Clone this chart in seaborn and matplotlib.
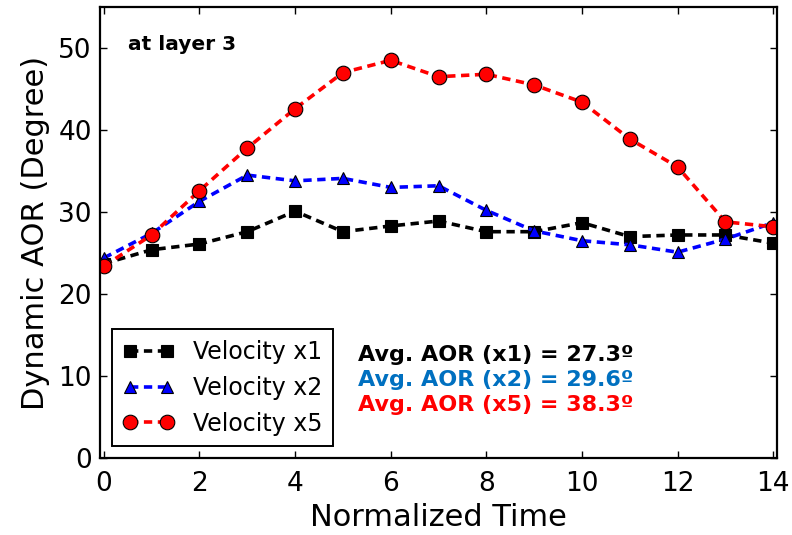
import numpy as np
import pandas as pd
import matplotlib
matplotlib.use("Agg")
import matplotlib.pyplot as plt
import seaborn as sns

# Dynamic angle of repose at layer 3 for three inlet velocities
time = list(range(15))
aor_x1 = [23.7, 25.4, 26.1, 27.6, 30.1, 27.6, 28.3, 28.9, 27.6, 27.6, 28.7, 27.0, 27.2, 27.2, 26.2]
aor_x2 = [24.4, 27.4, 31.3, 34.5, 33.8, 34.1, 33.0, 33.2, 30.2, 27.7, 26.5, 26.0, 25.1, 26.7, 28.7]
aor_x5 = [23.4, 27.2, 32.6, 37.8, 42.6, 47.0, 48.5, 46.5, 46.8, 45.5, 43.4, 38.9, 35.5, 28.8, 28.2]

series_labels = ["Velocity x1", "Velocity x2", "Velocity x5"]
avg_labels = ["Avg. AOR (x1) = 27.3º", "Avg. AOR (x2) = 29.6º", "Avg. AOR (x5) = 38.3º"]
x_ticks = [0, 2, 4, 6, 8, 10, 12, 14]
y_ticks = [0, 10, 20, 30, 40, 50]

sns.set_style("ticks")
plt.rcParams.update({
    "font.family": ["DejaVu Sans"],
    "text.color": "black",
    "axes.labelcolor": "black",
    "xtick.color": "black",
    "ytick.color": "black",
    "xtick.direction": "in",
    "ytick.direction": "in",
    "xtick.top": True,
    "ytick.right": True,
    "xtick.major.size": 5,
    "ytick.major.size": 5,
    "xtick.major.width": 1.0,
    "ytick.major.width": 1.0,
    "axes.linewidth": 1.6,
    "axes.edgecolor": "black",
    "lines.scale_dashes": False,
})

fig = plt.figure(figsize=(7.92, 5.35), dpi=100)
ax = fig.add_axes([0.1263, 0.1439, 0.8548, 0.8430])

styles = [
    (aor_x1, "black", "s", 8.5),
    (aor_x2, "blue", "^", 9.0),
    (aor_x5, "red", "o", 10.5),
]
for (vals, col, mk, ms), lab in zip(styles, series_labels):
    sns.lineplot(x=time, y=vals, ax=ax, color=col, marker=mk, markersize=ms,
                 markeredgecolor="black", markeredgewidth=0.8,
                 linewidth=2.6, dashes=False, label=lab)
for line in ax.get_lines():
    line.set_dashes([6, 4])

ax.set_xlim(-0.08, 14.08)
ax.set_ylim(0, 55)
ax.set_xticks(x_ticks)
ax.set_yticks(y_ticks)
ax.tick_params(axis="x", labelsize=19, pad=9)
ax.tick_params(axis="y", labelsize=19, pad=6)
ax.set_xlabel("Normalized Time", fontsize=22, labelpad=5)
ax.set_ylabel("Dynamic AOR (Degree)", fontsize=22, labelpad=6)

leg = ax.legend(loc="lower left", numpoints=2, fontsize=17, frameon=True,
                fancybox=False, edgecolor="black", framealpha=1,
                handlelength=2.2, handletextpad=0.8, borderpad=0.45,
                labelspacing=0.5)
leg.get_frame().set_linewidth(1.4)
for h in leg.legend_handles:
    h.set_dashes([6, 4])

ax.text(0.041, 0.916, "at layer 3", transform=ax.transAxes, fontsize=14.5,
        fontweight="bold", color="black", va="center", ha="left")

avg_colors = ["black", "#0070C0", "red"]
avg_y = [0.228, 0.173, 0.118]
for txt, col, yy in zip(avg_labels, avg_colors, avg_y):
    ax.text(0.381, yy, txt, transform=ax.transAxes, fontsize=16,
            fontweight="bold", color=col, va="center", ha="left")

fig.savefig("out.png", dpi=100)
